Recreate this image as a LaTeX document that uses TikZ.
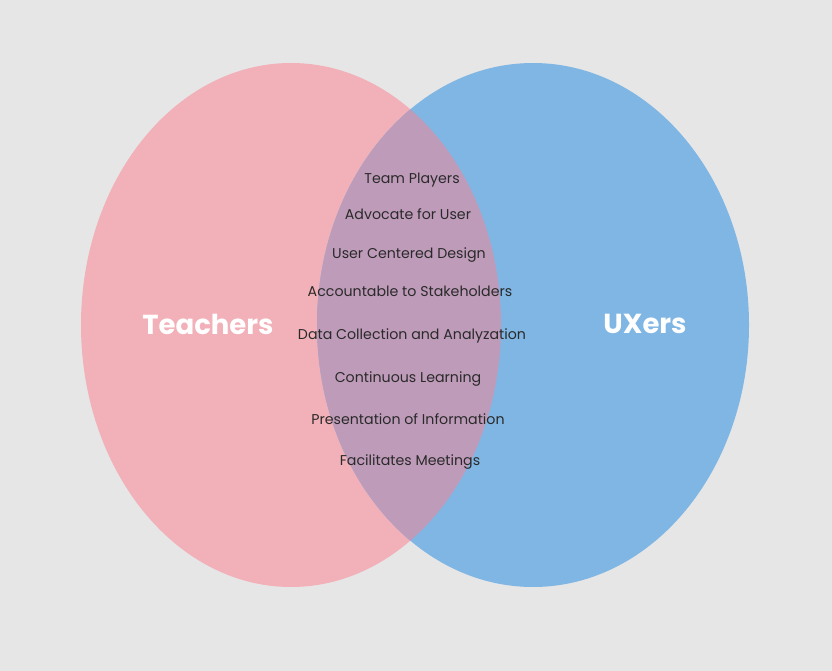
\documentclass[tikz,border=0pt]{standalone}
\usepackage{fontspec}
\setmainfont{Poppins}
\definecolor{bg}{HTML}{E6E6E6}
\definecolor{pinkc}{HTML}{F2B0B8}
\definecolor{bluec}{HTML}{80B6E4}
\definecolor{purplec}{HTML}{BF9BBA}
\definecolor{txt}{HTML}{2A2A2A}
\begin{document}
\begin{tikzpicture}[x=1pt,y=-1pt,
  item/.style={text=txt,font=\fontsize{14.2}{16}\selectfont,inner sep=0pt,anchor=base},
  setlabel/.style={text=white,font=\fontsize{27.5}{30}\selectfont\bfseries,inner sep=0pt}]
\fill[bg] (0,0) rectangle (832,671);
\useasboundingbox (0,0) rectangle (832,671);
\fill[pinkc] (291,325) ellipse [x radius=210, y radius=262];
\fill[bluec] (533,325) ellipse [x radius=216, y radius=262];
\begin{scope}
\clip (291,325) ellipse [x radius=210, y radius=262];
\fill[purplec] (533,325) ellipse [x radius=216, y radius=262];
\end{scope}
\node[setlabel] (teachers) at (208,324) {Teachers};
\node[setlabel] (uxers) at (645,324) {UXers};
\node[item] (i1) at (412,184) {Team Players};
\node[item] (i2) at (408,219) {Advocate for User};
\node[item] (i3) at (409,258) {User Centered Design};
\node[item] (i4) at (410,296) {Accountable to Stakeholders};
\node[item] (i5) at (412,339) {Data Collection and Analyzation};
\node[item] (i6) at (408,382) {Continuous Learning};
\node[item] (i7) at (408,424) {Presentation of Information};
\node[item] (i8) at (410,465) {Facilitates Meetings};
\end{tikzpicture}
\end{document}
